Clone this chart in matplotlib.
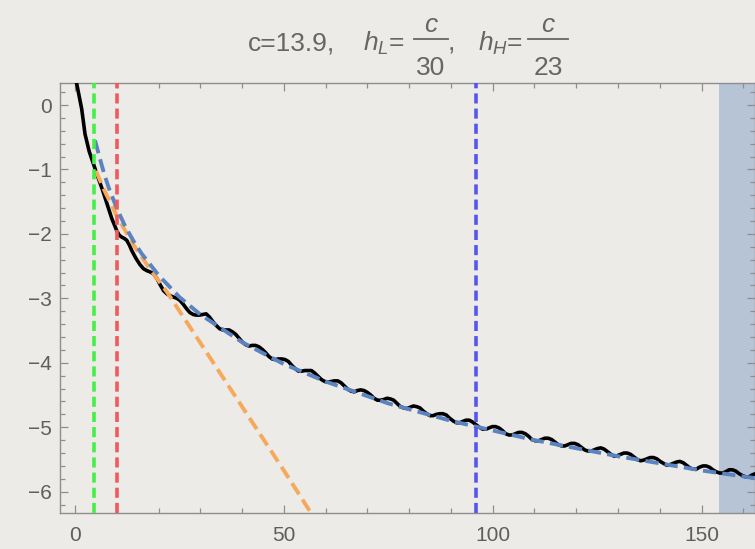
import numpy as np
import matplotlib.pyplot as plt
from matplotlib.ticker import MultipleLocator
from matplotlib.lines import Line2D

plt.rcParams['font.family'] = ['Liberation Sans', 'DejaVu Sans']
plt.rcParams['mathtext.fontset'] = 'custom'
plt.rcParams['mathtext.rm'] = 'Liberation Sans'
plt.rcParams['mathtext.it'] = 'Liberation Sans:italic'

# 데이터
black_x = [0.2, 0.8, 1.6, 2.4, 3.4, 4.6, 5.6, 6.6, 7.6, 8.8, 10.0, 10.6, 11.2, 11.8, 12.4, 13.0, 13.6,
           14.6, 15.6, 16.4, 17.2, 18.0, 18.8, 19.6, 20.4, 21.2, 22.0, 22.8, 23.6, 24.4, 25.1,
           25.9, 26.7, 27.5, 28.3, 29.0, 29.8, 30.6,
           31.4, 32.2, 33.0, 33.8, 34.6, 35.35, 36.1, 36.9,
           37.7, 38.5, 39.3, 40.1, 40.9, 41.65, 42.4, 43.2,
           44.0, 44.8, 45.6, 46.4, 47.2, 47.95, 48.7, 49.5,
           50.3, 51.1, 51.9, 52.7, 53.5, 54.25, 55.0, 55.8,
           56.6, 57.4, 58.2, 59.0, 59.8, 60.55, 61.3, 62.1,
           62.9, 63.7, 64.5, 65.3, 66.1, 66.85, 67.6, 68.4,
           69.2, 70.0, 70.8, 71.6, 72.4, 73.15, 73.9, 74.7,
           75.5, 76.3, 77.1, 77.9, 78.7, 79.45, 80.2, 81.0,
           81.8, 82.6, 83.4, 84.2, 85.0, 85.75, 86.5, 87.3,
           88.1, 88.9, 89.7, 90.5, 91.3, 92.05, 92.8, 93.6,
           94.4, 95.2, 96.0, 96.8, 97.6, 98.35, 99.1, 99.9,
           100.7, 101.5, 102.3, 103.1, 103.9, 104.65, 105.4, 106.2,
           107.0, 107.8, 108.6, 109.4, 110.2, 110.95, 111.7, 112.5,
           113.3, 114.1, 114.9, 115.7, 116.5, 117.25, 118.0, 118.8,
           119.6, 120.4, 121.2, 122.0, 122.8, 123.55, 124.3, 125.1,
           125.9, 126.7, 127.5, 128.3, 129.1, 129.85, 130.6, 131.4,
           132.2, 133.0, 133.8, 134.6, 135.4, 136.15, 136.9, 137.7,
           138.5, 139.3, 140.1, 140.9, 141.7, 142.45, 143.2, 144.0,
           144.8, 145.6, 146.4, 147.2, 148.0, 148.75, 149.5, 150.3,
           151.1, 151.9, 152.7, 153.5, 154.3, 155.05, 155.8, 156.6,
           157.4, 158.2, 159.0, 159.8, 160.6, 161.35, 162.1, 162.9, 163.7]
black_y = [0.40, 0.20, -0.06, -0.45, -0.72, -0.95, -1.14, -1.32, -1.52, -1.76, -1.95, -2.02, -2.05, -2.07, -2.10, -2.17, -2.26,
           -2.38, -2.48, -2.54, -2.57, -2.59, -2.62, -2.69, -2.79, -2.88, -2.93, -2.96, -2.98, -3.00, -3.03,
           -3.09, -3.16, -3.22, -3.25, -3.26, -3.26, -3.25,
           -3.24, -3.29, -3.36, -3.42, -3.47, -3.49, -3.49, -3.49,
           -3.52, -3.56, -3.62, -3.68, -3.72, -3.74, -3.73, -3.73,
           -3.75, -3.79, -3.84, -3.90, -3.94, -3.95, -3.94, -3.94,
           -3.95, -3.98, -4.04, -4.09, -4.13, -4.13, -4.12, -4.12,
           -4.12, -4.16, -4.21, -4.26, -4.29, -4.30, -4.29, -4.28,
           -4.28, -4.31, -4.36, -4.41, -4.44, -4.45, -4.43, -4.42,
           -4.43, -4.46, -4.50, -4.55, -4.58, -4.58, -4.57, -4.55,
           -4.56, -4.58, -4.63, -4.68, -4.70, -4.71, -4.69, -4.67,
           -4.68, -4.70, -4.75, -4.79, -4.82, -4.82, -4.80, -4.79,
           -4.79, -4.81, -4.86, -4.90, -4.93, -4.93, -4.91, -4.89,
           -4.89, -4.92, -4.96, -5.00, -5.03, -5.03, -5.01, -4.99,
           -4.99, -5.01, -5.05, -5.10, -5.12, -5.12, -5.10, -5.08,
           -5.08, -5.10, -5.14, -5.19, -5.21, -5.21, -5.19, -5.17,
           -5.17, -5.19, -5.23, -5.27, -5.29, -5.29, -5.27, -5.25,
           -5.25, -5.27, -5.31, -5.35, -5.37, -5.37, -5.35, -5.33,
           -5.32, -5.34, -5.38, -5.42, -5.45, -5.44, -5.42, -5.40,
           -5.40, -5.42, -5.46, -5.50, -5.52, -5.51, -5.49, -5.47,
           -5.47, -5.49, -5.53, -5.56, -5.59, -5.58, -5.56, -5.54,
           -5.53, -5.55, -5.59, -5.63, -5.65, -5.65, -5.62, -5.60,
           -5.60, -5.62, -5.66, -5.69, -5.71, -5.71, -5.69, -5.66,
           -5.66, -5.68, -5.72, -5.75, -5.77, -5.77, -5.74, -5.72, -5.72]

fit_x = [4.8, 6, 7, 8, 10, 12, 14, 16, 20, 25, 30, 40, 50, 60, 75, 90, 110, 130, 150, 165]
fit_y = [-0.55, -0.84, -1.07, -1.27, -1.60, -1.88, -2.11, -2.31, -2.64, -2.98, -3.25, -3.68,
         -4.02, -4.29, -4.63, -4.90, -5.20, -5.45, -5.67, -5.81]

lin_x = [5.0, 7.0, 10.0, 14.0, 18.0, 22.0, 30.0, 40.0, 50.0, 57.0]
lin_y = [-1.02, -1.32, -1.72, -2.17, -2.55, -2.90, -3.69, -4.68, -5.67, -6.38]

x_green = 4.55
x_red = 10.0
x_blue = 96.0
shade_start = 154.2

bg = '#ecebe8'
W, H = 755, 549
fig = plt.figure(figsize=(W / 100, H / 100), dpi=100, facecolor=bg)
ax = fig.add_axes([60 / W, 1 - 513.3 / H, 1 - 60 / W, (513.3 - 83.3) / H])
ax.set_facecolor(bg)

ax.axvspan(shade_start, 200, color='#b7c4d6', lw=0, zorder=1)
ax.plot(black_x, black_y, color='black', lw=2.6, zorder=3, solid_joinstyle='round')
ax.plot(lin_x, lin_y, color='#f6a95a', lw=2.8, dashes=(3.4, 1.6), zorder=4)
ax.plot(fit_x, fit_y, color='#5b83c0', lw=2.8, dashes=(3.4, 1.6), zorder=5)
for xv, col in [(x_green, '#48ee48'), (x_red, '#f25a5a'), (x_blue, '#5656ee')]:
    ax.axvline(xv, color=col, lw=2.6, dashes=(2.8, 1.4), zorder=6)

ax.set_xlim(-3.59, 162.8)
ax.set_ylim(-6.335, 0.337)
ax.xaxis.set_major_locator(MultipleLocator(50))
ax.xaxis.set_minor_locator(MultipleLocator(10))
ax.yaxis.set_major_locator(MultipleLocator(1))
ax.yaxis.set_minor_locator(MultipleLocator(0.2))

for s in ax.spines.values():
    s.set_color('#8e8e8e')
    s.set_linewidth(1.0)
ax.tick_params(which='both', direction='in', top=True, right=True, color='#8e8e8e', width=0.9)
ax.tick_params(which='major', length=6, labelsize=15, labelcolor='#5e5e5e')
ax.tick_params(which='minor', length=3.5)
ax.tick_params(axis='x', which='major', pad=9)
ax.tick_params(axis='y', which='major', pad=6)

# 제목 (분수는 직접 배치)
tc = '#666666'
fs = 19
def fx(px):
    return px / W
def fy(py):
    return 1 - py / H

fig.text(fx(248), fy(50.5), 'c=13.9,', fontsize=fs, color=tc, va='baseline')
fig.text(fx(363), fy(50.5), r'$h_L$=', fontsize=fs, color=tc, va='baseline')
fig.text(fx(448), fy(50.5), ',', fontsize=fs, color=tc, va='baseline')
fig.text(fx(478), fy(50.5), r'$h_H$=', fontsize=fs, color=tc, va='baseline')
for x0, x1, den in [(414, 448, '30'), (528, 568, '23')]:
    xc = (x0 + x1) / 2
    fig.text(fx(xc), fy(31.7), r'$c$', fontsize=fs, color=tc, ha='center', va='baseline')
    fig.add_artist(Line2D([fx(x0), fx(x1)], [fy(39), fy(39)], color=tc, lw=1.3,
                          transform=fig.transFigure))
    fig.text(fx(xc), fy(75), den, fontsize=fs, color=tc, ha='center', va='baseline')

plt.savefig('out.png', dpi=100, facecolor=bg)
